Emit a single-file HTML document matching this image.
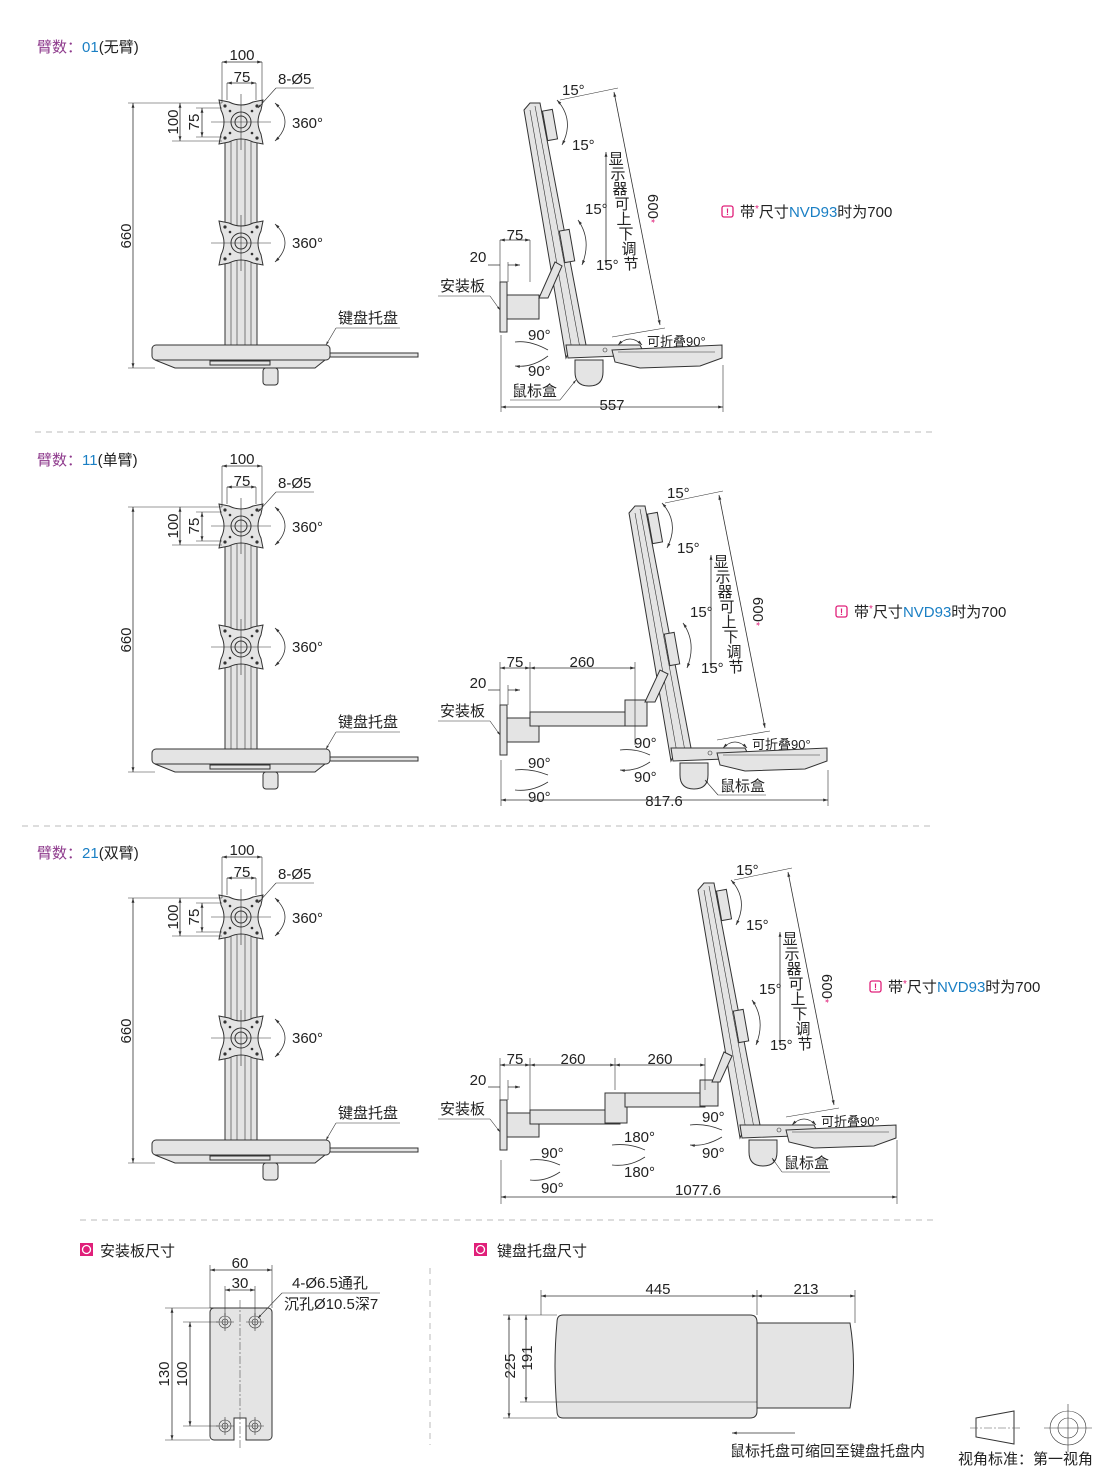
<!DOCTYPE html>
<html><head><meta charset="utf-8"><style>
html,body{margin:0;padding:0;background:#fff;}
svg{display:block;font-family:"Liberation Sans","Noto Sans CJK SC",sans-serif;}
.t{font-size:15px;fill:#222;}
.s{font-size:13px;fill:#222;}
.d{stroke:#333;stroke-width:0.8;fill:none;}
.e{stroke:#333;stroke-width:0.6;fill:none;}
.p{fill:#e4e4e4;stroke:#333;stroke-width:1;}
.c{stroke:#555;stroke-width:0.6;stroke-dasharray:8 2 2 2;fill:none;}
</style></head><body>
<svg width="1110" height="1472" viewBox="0 0 1110 1472" xmlns="http://www.w3.org/2000/svg">
<defs>
<marker id="a" viewBox="0 0 10 10" refX="10" refY="5" markerWidth="7" markerHeight="6" orient="auto-start-reverse"><path d="M0,2 L10,5 L0,8z" fill="#333"/></marker>
<g id="vesa">
<path d="M-22,-22 L-12,-20 Q0,-14 12,-20 L22,-22 L20,-12 Q14,0 20,12 L22,22 L12,20 Q0,14 -12,20 L-22,22 L-20,12 Q-14,0 -20,-12Z" class="p"/>
<circle r="10" class="p"/><circle r="6" class="p"/>
<circle cx="-16" cy="-16" r="1.6" fill="#333"/><circle cx="16" cy="-16" r="1.6" fill="#333"/><circle cx="-16" cy="16" r="1.6" fill="#333"/><circle cx="16" cy="16" r="1.6" fill="#333"/>
<circle cx="-11" cy="-11" r="1.3" fill="#333"/><circle cx="11" cy="-11" r="1.3" fill="#333"/><circle cx="-11" cy="11" r="1.3" fill="#333"/><circle cx="11" cy="11" r="1.3" fill="#333"/>
<path d="M-30,0 H30 M0,-28 V28" class="e"/>
</g>
<g id="front">
<rect x="225" y="138" width="32" height="208" class="p"/>
<path d="M231,140V345 M237,140V345 M245,140V345 M251,140V345" class="e"/>
<use href="#vesa" x="241" y="122"/>
<use href="#vesa" x="241" y="243"/>
<path d="M222,103V62 M262,103V62 M227,100V83 M256,100V83" class="e"/>
<path d="M222,62H262" class="d" marker-start="url(#a)" marker-end="url(#a)"/>
<path d="M227,83H256" class="d" marker-start="url(#a)" marker-end="url(#a)"/>
<text x="242" y="60" class="t" text-anchor="middle">100</text>
<text x="242" y="82" class="t" text-anchor="middle">75</text>
<text x="278" y="84" class="t">8-Ø5</text>
<path d="M276,88H314 M276,88L258,108" class="e" marker-end="url(#a)"/>
<path d="M275,103Q295,122 275,141" class="d" marker-start="url(#a)" marker-end="url(#a)"/>
<text x="292" y="128" class="t">360°</text>
<path d="M275,224Q295,243 275,262" class="d" marker-start="url(#a)" marker-end="url(#a)"/>
<text x="292" y="248" class="t">360°</text>
<path d="M172,103H222 M172,141H222 M196,108H222 M196,137H222 M128,103H222 M128,368H155" class="e"/>
<path d="M180,103V141" class="d" marker-start="url(#a)" marker-end="url(#a)"/>
<path d="M202,108V137" class="d" marker-start="url(#a)" marker-end="url(#a)"/>
<path d="M133,103V368" class="d" marker-start="url(#a)" marker-end="url(#a)"/>
<text transform="translate(178,122) rotate(-90)" class="t" text-anchor="middle">100</text>
<text transform="translate(199,122) rotate(-90)" class="t" text-anchor="middle">75</text>
<text transform="translate(131,236) rotate(-90)" class="t" text-anchor="middle">660</text>
<rect x="330" y="353" width="88" height="4" class="p"/>
<path d="M155,360 L325,360 L315,368 L175,368Z" class="p"/>
<rect x="152" y="345" width="178" height="15" rx="4" class="p"/>
<rect x="210" y="361" width="60" height="4" class="p"/>
<rect x="263" y="368" width="15" height="17" rx="3" class="p"/>
<text x="338" y="323" class="t">键盘托盘</text>
<path d="M336,328H400 M336,328L326,345" class="e" marker-end="url(#a)"/>
</g>
<g id="post">
<path d="M524,110 L530,103 L540,103 L586,345 L572,345 L566,358Z" class="p"/>
<path d="M530,110 L572,350 M535,106 L580,348" class="e"/>
<rect x="545" y="110" width="10" height="30" class="p" transform="rotate(-10 550 125)"/>
<rect x="562" y="230" width="10" height="32" class="p" transform="rotate(-10 567 246)"/>
<path d="M566,345 L640,345 L645,355 L568,358Z" class="p"/>
<path d="M575,360 H603 V372 Q603,386 589,386 Q575,386 575,372Z" class="p"/>
<path d="M612,350 L722,345 L722,358 L700,366 L640,368 L615,362Z" class="p"/>
<path d="M618,352 H715" class="e"/>
<circle cx="605" cy="350" r="2" class="e"/>
<text x="562" y="95" class="t">15°</text><text x="572" y="150" class="t">15°</text>
<text x="585" y="214" class="t">15°</text><text x="596" y="270" class="t">15°</text>
<path d="M557,100Q575,120 562,145" class="d" marker-start="url(#a)" marker-end="url(#a)"/>
<path d="M578,220Q592,240 582,265" class="d" marker-start="url(#a)" marker-end="url(#a)"/>
<path d="M560,100L618,88 M612,337L665,328" class="e"/>
<path d="M614,92L660,325" class="d" marker-start="url(#a)" marker-end="url(#a)"/>
<text transform="translate(648,194) rotate(90)" class="t">600<tspan fill="#e0207a" font-size="10">*</tspan></text>
<path d="M606,152V265" class="d" marker-start="url(#a)" marker-end="url(#a)"/>
<g class="t" font-size="16" text-anchor="middle">
<text x="616" y="164">显</text>
<text x="618" y="179">示</text>
<text x="620" y="194">器</text>
<text x="622" y="209">可</text>
<text x="624" y="224">上</text>
<text x="626" y="239">下</text>
<text x="629" y="254">调</text>
<text x="631" y="269">节</text>
</g>
<path d="M618,345Q630,333 642,345" class="d" marker-start="url(#a)" marker-end="url(#a)"/>
<text x="647" y="346" class="s">可折叠90°</text>
</g>
<g id="mount">
<rect x="500" y="282" width="7" height="50" class="p"/>
<rect x="507" y="295" width="32" height="24" class="p"/>
</g>
<g id="note"><rect x="0" y="-11" width="11" height="11" rx="2" fill="none" stroke="#e0207a" stroke-width="1.3"/><text x="5.5" y="-2" font-size="9" fill="#e0207a" text-anchor="middle" font-weight="bold">!</text>
<text x="18" y="0" class="t" font-size="15">带<tspan fill="#e0207a" font-size="10" dy="-5">*</tspan><tspan dy="5">尺寸</tspan><tspan fill="#1a7fc4">NVD93</tspan>时为700</text></g>
</defs>

<text x="37" y="52" font-size="15" fill="#8e3a8c">臂数：<tspan fill="#1a7fc4">01</tspan><tspan fill="#222">(无臂)</tspan></text>
<text x="37" y="465" font-size="15" fill="#8e3a8c">臂数：<tspan fill="#1a7fc4">11</tspan><tspan fill="#222">(单臂)</tspan></text>
<text x="37" y="858" font-size="15" fill="#8e3a8c">臂数：<tspan fill="#1a7fc4">21</tspan><tspan fill="#222">(双臂)</tspan></text>
<path d="M35,432H935 M22,826H935 M80,1220H938" stroke="#bbb" stroke-dasharray="6 5" fill="none"/>
<path d="M430,1268V1445" stroke="#bbb" stroke-dasharray="6 5" fill="none"/>

<use href="#front"/>
<use href="#front" y="404"/>
<use href="#front" y="795"/>

<use href="#post"/>
<use href="#mount"/>
<path d="M539,298 L555,262 L562,266 L548,298Z" class="p"/>
<path d="M500,282V240 M530,282V240 M508,282V262 M501,335V412 M723,365V412" class="e"/>
<path d="M500,240H530" class="d" marker-start="url(#a)" marker-end="url(#a)"/>
<path d="M488,265H500 M508,265H520" class="d" marker-end="url(#a)"/>
<text x="515" y="240" class="t" text-anchor="middle">75</text>
<text x="478" y="262" class="t" text-anchor="middle">20</text>
<text x="440" y="291" class="t">安装板</text>
<path d="M438,296H490 M490,296L500,310" class="e" marker-end="url(#a)"/>
<text x="528" y="340" class="t">90°</text><text x="528" y="376" class="t">90°</text>
<path d="M548,350Q530,340 515,342 M548,356Q532,368 515,366" class="d" marker-end="url(#a)"/>
<text x="512" y="396" class="t">鼠标盒</text>
<path d="M510,400H560 M560,400L576,380" class="e" marker-end="url(#a)"/>
<path d="M501,407H723" class="d" marker-start="url(#a)" marker-end="url(#a)"/>
<text x="612" y="410" class="t" text-anchor="middle">557</text>
<use href="#note" x="722" y="217"/>

<use href="#post" x="105" y="403"/>
<use href="#mount" y="423"/>
<rect x="530" y="712" width="100" height="14" class="p"/>
<rect x="625" y="700" width="22" height="26" class="p"/>
<path d="M645,702 L660,670 L668,674 L655,702Z" class="p"/>
<path d="M500,705V662 M530,725V662 M508,705V685 M635,745V662 M501,760V806 M828,770V806" class="e"/>
<path d="M500,668H530" class="d" marker-start="url(#a)" marker-end="url(#a)"/>
<path d="M530,668H635" class="d" marker-start="url(#a)" marker-end="url(#a)"/>
<path d="M488,690H500 M508,690H520" class="d" marker-end="url(#a)"/>
<text x="515" y="667" class="t" text-anchor="middle">75</text>
<text x="582" y="667" class="t" text-anchor="middle">260</text>
<text x="478" y="688" class="t" text-anchor="middle">20</text>
<text x="440" y="716" class="t">安装板</text>
<path d="M438,721H490 M490,721L500,735" class="e" marker-end="url(#a)"/>
<text x="528" y="768" class="t">90°</text><text x="528" y="802" class="t">90°</text>
<text x="634" y="748" class="t">90°</text><text x="634" y="782" class="t">90°</text>
<path d="M548,775Q530,768 515,770 M548,782Q532,792 515,790 M650,755Q635,748 620,750 M650,762Q635,772 620,770" class="d" marker-end="url(#a)"/>
<text x="720" y="791" class="t">鼠标盒</text>
<path d="M718,795H766 M718,795L705,780" class="e" marker-end="url(#a)"/>
<path d="M501,800H828" class="d" marker-start="url(#a)" marker-end="url(#a)"/>
<text x="664" y="806" class="t" text-anchor="middle">817.6</text>
<use href="#note" x="836" y="617"/>

<use href="#post" x="174" y="780"/>
<use href="#mount" y="818"/>
<rect x="530" y="1110" width="90" height="14" class="p"/>
<rect x="605" y="1093" width="22" height="30" class="p"/>
<rect x="625" y="1093" width="80" height="14" class="p"/>
<rect x="700" y="1080" width="18" height="26" class="p"/>
<path d="M712,1082 L724,1052 L732,1056 L720,1082Z" class="p"/>
<path d="M500,1100V1058 M530,1120V1058 M508,1100V1080 M615,1090V1058 M705,1090V1058 M501,1160V1204 M897,1140V1204" class="e"/>
<path d="M500,1065H530" class="d" marker-start="url(#a)" marker-end="url(#a)"/>
<path d="M530,1065H615" class="d" marker-start="url(#a)" marker-end="url(#a)"/>
<path d="M615,1065H705" class="d" marker-start="url(#a)" marker-end="url(#a)"/>
<path d="M488,1087H500 M508,1087H520" class="d" marker-end="url(#a)"/>
<text x="515" y="1064" class="t" text-anchor="middle">75</text>
<text x="573" y="1064" class="t" text-anchor="middle">260</text>
<text x="660" y="1064" class="t" text-anchor="middle">260</text>
<text x="478" y="1085" class="t" text-anchor="middle">20</text>
<text x="440" y="1114" class="t">安装板</text>
<path d="M438,1119H490 M490,1119L500,1132" class="e" marker-end="url(#a)"/>
<text x="541" y="1158" class="t">90°</text><text x="541" y="1193" class="t">90°</text>
<text x="624" y="1142" class="t">180°</text><text x="624" y="1177" class="t">180°</text>
<text x="702" y="1122" class="t">90°</text><text x="702" y="1158" class="t">90°</text>
<path d="M560,1165Q545,1158 530,1160 M560,1172Q545,1182 530,1180 M645,1150Q630,1143 612,1145 M645,1157Q630,1167 612,1165 M722,1130Q705,1123 690,1125 M722,1137Q705,1147 690,1145" class="d" marker-end="url(#a)"/>
<text x="784" y="1168" class="t">鼠标盒</text>
<path d="M782,1172H830 M782,1172L772,1158" class="e" marker-end="url(#a)"/>
<path d="M501,1197H897" class="d" marker-start="url(#a)" marker-end="url(#a)"/>
<text x="698" y="1195" class="t" text-anchor="middle">1077.6</text>
<use href="#note" x="870" y="992"/>

<rect x="80" y="1243" width="13" height="13" fill="#e0207a"/><circle cx="86.5" cy="1249.5" r="4" fill="none" stroke="#fff" stroke-width="1.3"/>
<text x="100" y="1256" class="t" font-size="15">安装板尺寸</text>
<path d="M210,1308 h58 a4,4 0 0 1 4,4 v124 a4,4 0 0 1 -4,4 h-22 v-22 h-12 v22 h-20 a4,4 0 0 1 -4,-4 v-124 a4,4 0 0 1 4,-4z" class="p"/>
<path d="M240,1300V1450" class="c"/>
<g class="e"><circle cx="225" cy="1322" r="6"/><circle cx="225" cy="1322" r="3"/><circle cx="255" cy="1322" r="6"/><circle cx="255" cy="1322" r="3"/><circle cx="225" cy="1426" r="6"/><circle cx="225" cy="1426" r="3"/><circle cx="255" cy="1426" r="6"/><circle cx="255" cy="1426" r="3"/>
<path d="M216,1322h18M246,1322h18M216,1426h18M246,1426h18M225,1313v18M255,1313v18M225,1417v18M255,1417v18"/></g>
<path d="M210,1308V1265 M272,1308V1265 M225,1315V1286 M255,1315V1286 M165,1308H210 M165,1440H210 M183,1322H218 M183,1426H218" class="e"/>
<path d="M210,1270H272" class="d" marker-start="url(#a)" marker-end="url(#a)"/>
<path d="M225,1290H255" class="d" marker-start="url(#a)" marker-end="url(#a)"/>
<path d="M172,1308V1440" class="d" marker-start="url(#a)" marker-end="url(#a)"/>
<path d="M190,1322V1426" class="d" marker-start="url(#a)" marker-end="url(#a)"/>
<text x="240" y="1268" class="t" text-anchor="middle">60</text>
<text x="240" y="1288" class="t" text-anchor="middle">30</text>
<text transform="translate(169,1374) rotate(-90)" class="t" text-anchor="middle">130</text>
<text transform="translate(187,1374) rotate(-90)" class="t" text-anchor="middle">100</text>
<text x="292" y="1288" class="t">4-Ø6.5通孔</text>
<text x="284" y="1309" class="t">沉孔Ø10.5深7</text>
<path d="M282,1293H380 M282,1293L258,1318" class="e" marker-end="url(#a)"/>

<rect x="474" y="1243" width="13" height="13" fill="#e0207a"/><circle cx="480.5" cy="1249.5" r="4" fill="none" stroke="#fff" stroke-width="1.3"/>
<text x="497" y="1256" class="t" font-size="15">键盘托盘尺寸</text>
<path d="M757,1323 H850 Q857,1365 850,1408 H757Z" class="p"/>
<path d="M563,1315 H750 Q757,1315 757,1322 V1411 Q757,1418 750,1418 H563 Q557,1418 557,1411 Q553,1366 557,1322 Q557,1315 563,1315Z" class="p"/>
<path d="M557,1402H757" class="e"/>
<path d="M541,1315V1290 M757,1315V1290 M855,1323V1290 M503,1315H557 M503,1418H557 M520,1402H557" class="e"/>
<path d="M541,1296H757" class="d" marker-start="url(#a)" marker-end="url(#a)"/>
<path d="M757,1296H855" class="d" marker-start="url(#a)" marker-end="url(#a)"/>
<path d="M509,1315V1418" class="d" marker-start="url(#a)" marker-end="url(#a)"/>
<path d="M526,1315V1402" class="d" marker-start="url(#a)" marker-end="url(#a)"/>
<text x="658" y="1294" class="t" text-anchor="middle">445</text>
<text x="806" y="1294" class="t" text-anchor="middle">213</text>
<text transform="translate(515,1366) rotate(-90)" class="t" text-anchor="middle">225</text>
<text transform="translate(532,1358) rotate(-90)" class="t" text-anchor="middle">191</text>
<path d="M795,1433H732" class="d" marker-end="url(#a)"/>
<text x="730" y="1456" class="t" font-size="15">鼠标托盘可缩回至键盘托盘内</text>
<path d="M976,1418 L1014,1411 L1014,1444 L976,1437Z" fill="none" stroke="#333"/>
<path d="M970,1428H1020" class="c"/>
<ellipse cx="1068" cy="1428" rx="18" ry="17" class="e"/><circle cx="1068" cy="1428" r="10" class="e"/>
<path d="M1044,1428H1092 M1068,1404V1452" class="e"/>
<text x="958" y="1464" class="t" font-size="15">视角标准：第一视角</text>
</svg>
</body></html>
